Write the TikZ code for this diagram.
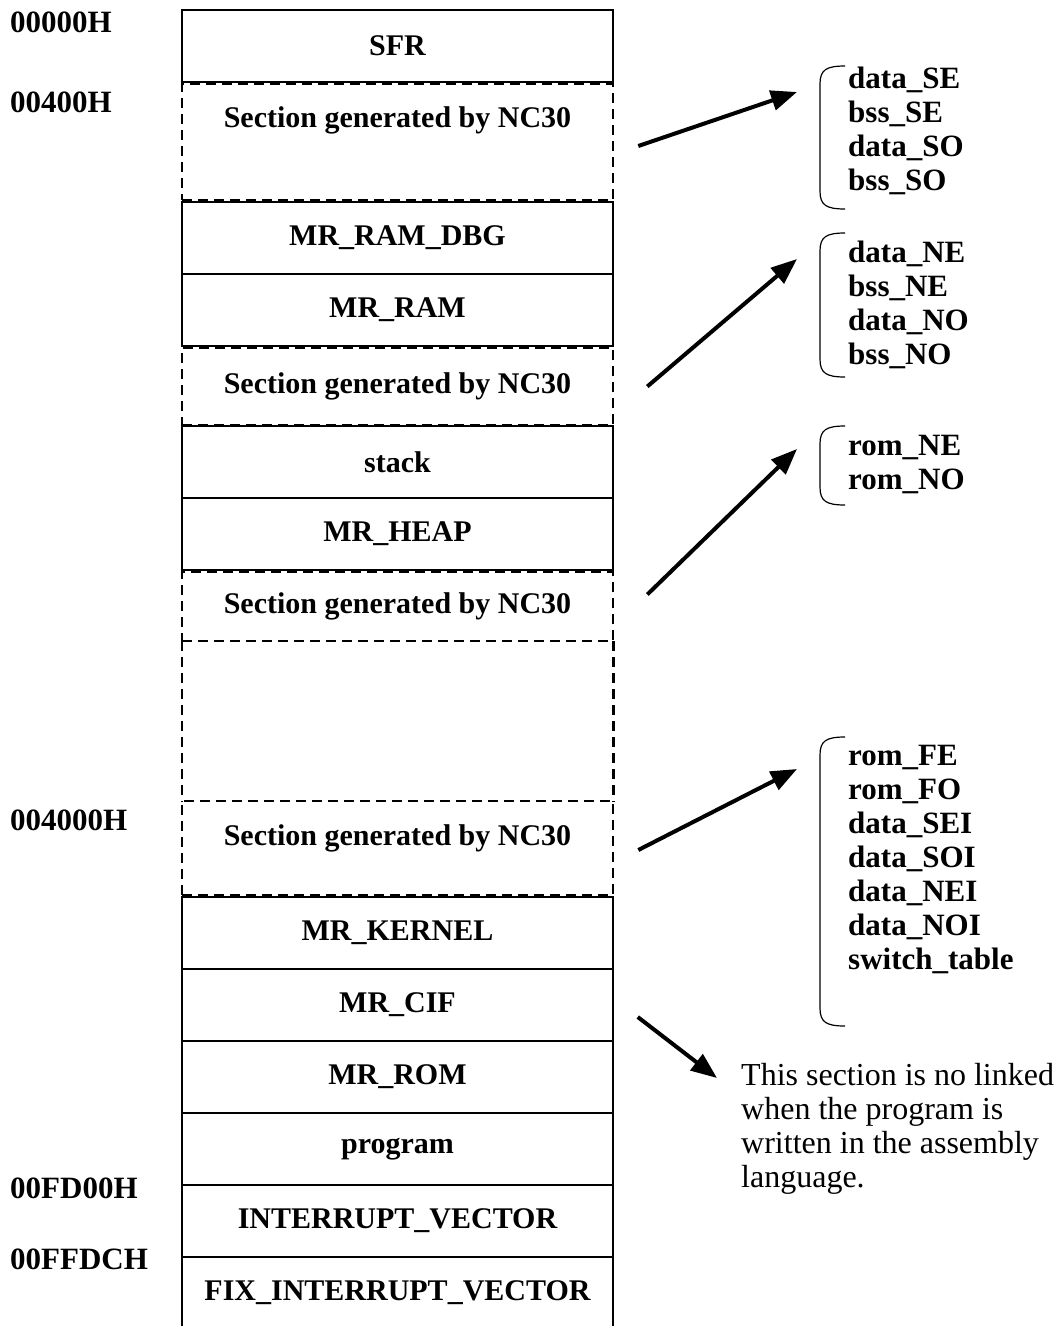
\documentclass[tikz,border=0pt]{standalone}
\usepackage{fontspec}
\setmainfont{Liberation Serif}
\usetikzlibrary{arrows.meta,positioning}

\tikzset{
  memblk/.style={draw, line width=1.5pt, minimum width=431pt, minimum height=72pt,
    inner sep=0pt, font=\fontsize{30}{34}\selectfont\bfseries},
  gensec/.style={draw, dash pattern=on 10pt off 6pt, line width=2.6pt,
    minimum width=431pt, inner sep=0pt, font=\fontsize{30}{34}\selectfont\bfseries},
  gensecline/.style={dash pattern=on 10pt off 6pt, line width=2.6pt},
  memtxt/.style={inner sep=0pt, font=\fontsize{30}{34}\selectfont\bfseries},
  addr/.style={anchor=west, inner sep=0pt, font=\fontsize{31}{34}\selectfont\bfseries},
  listtxt/.style={anchor=north west, inner sep=0pt, align=left,
    font=\fontsize{31}{34}\selectfont\bfseries},
  notetxt/.style={anchor=north west, inner sep=0pt, align=left,
    font=\fontsize{32}{34}\selectfont},
  bigarrow/.style={line width=4pt, -{Triangle[length=26pt,width=20pt]}}
}

% open bracket in front of a section list: #1 = top, #2 = bottom
\newcommand\listbrace[2]{%
  \draw[line width=1.2pt] (845,#1) .. controls (826,#1) and (820,#1+4) .. (820,#1+18)
    -- (820,#2-18) .. controls (820,#2-4) and (826,#2) .. (845,#2);
}

\begin{document}
\begin{tikzpicture}[x=1pt,y=-1pt]
\useasboundingbox (0,0) rectangle (1060,1326);
\fill[white] (0,0) rectangle (1060,1326);

% Memory map column
\node[memblk] (sfr) at (397.5,46) {SFR};
\node[gensec, minimum height=116pt] (secA) at (397.5,142) {};
\node[memtxt] (secAtxt) at (397.5,120) {Section generated by NC30};
\node[memblk] (ramdbg) at (397.5,238) {MR\_RAM\_DBG};
\node[memblk] (ram) at (397.5,310) {MR\_RAM};
\node[gensec, minimum height=77pt] (secB) at (397.5,386.5) {Section generated by NC30};
\node[memblk] (stack) at (397.5,462) {stack};
\node[memblk] (heap) at (397.5,534) {MR\_HEAP};
\node[gensec, minimum height=69pt] (secC) at (397.5,606.5) {Section generated by NC30};
\node[minimum width=431pt, minimum height=160pt, inner sep=0pt] (spare) at (397.5,721) {};
\draw[gensecline] (spare.north west) -- (spare.south west)
  (spare.north east) -- (spare.south east);
\node[gensec, minimum height=94pt] (secD) at (397.5,848) {};
\node[memtxt] (secDtxt) at (397.5,838) {Section generated by NC30};
\node[memblk] (kernel) at (397.5,933) {MR\_KERNEL};
\node[memblk] (cif) at (397.5,1005) {MR\_CIF};
\node[memblk] (rom) at (397.5,1077) {MR\_ROM};
\node[memblk] (prog) at (397.5,1149) {program};
\node[memblk] (vect) at (397.5,1221) {INTERRUPT\_VECTOR};
\node[memblk] (fixvect) at (397.5,1293) {FIX\_INTERRUPT\_VECTOR};

% Addresses
\node[addr] (adrA) at (10,22) {00000H};
\node[addr] (adrB) at (10,102) {00400H};
\node[addr] (adrC) at (10,820) {004000H};
\node[addr] (adrD) at (10,1188) {00FD00H};
\node[addr] (adrE) at (10,1259) {00FFDCH};

% Section lists
\listbrace{66}{209}
\node[listtxt] (listA) at (848,67) {data\_SE\\bss\_SE\\data\_SO\\bss\_SO};
\listbrace{233}{377}
\node[listtxt] (listB) at (848,241) {data\_NE\\bss\_NE\\data\_NO\\bss\_NO};
\listbrace{426}{505}
\node[listtxt] (listC) at (848,435) {rom\_NE\\rom\_NO};
\listbrace{737}{1026}
\node[listtxt] (listD) at (848,745) {rom\_FE\\rom\_FO\\data\_SEI\\data\_SOI\\data\_NEI\\data\_NOI\\switch\_table};

\node[notetxt] (note) at (741,1063) {This section is no linked\\when the program is\\written in the assembly\\language.};

% Arrows
\coordinate (tipA) at (797,92);
\coordinate (tipB) at (797,259);
\coordinate (tipC) at (797,449);
\coordinate (tipD) at (797,769);
\coordinate (tipE) at (717,1078);
\draw[bigarrow] ([shift={(24,4)}]secA.east) -- (tipA);
\draw[bigarrow] ([shift={(33,0)}]secB.east) -- (tipB);
\draw[bigarrow] ([shift={(33,-12)}]secC.east) -- (tipC);
\draw[bigarrow] ([shift={(24,2)}]secD.east) -- (tipD);
\draw[bigarrow] ([shift={(24,12)}]cif.east) -- (tipE);
\end{tikzpicture}
\end{document}
